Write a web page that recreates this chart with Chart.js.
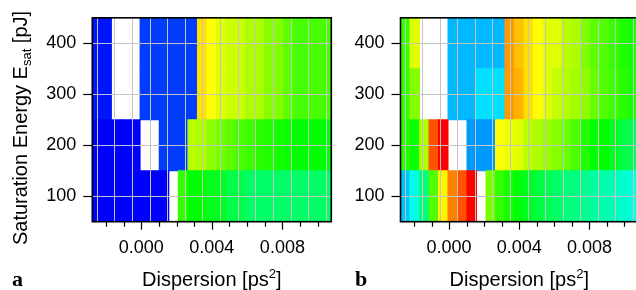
<!DOCTYPE html>
<html>
<head>
<meta charset="utf-8">
<script src="https://cdn.jsdelivr.net/npm/chart.js@4.4.0/dist/chart.umd.min.js"></script>
<style>
html, body { margin: 0; padding: 0; background: #fff; overflow: hidden; width: 636px; height: 290px; }
canvas { position: absolute; top: 0; }
#chart-a { left: 0; }
#chart-b { left: 340px; }
</style>
</head>
<body>
<canvas id="chart-a" width="340" height="290"></canvas>
<canvas id="chart-b" width="300" height="290"></canvas>
<script>
// --- Data ---
// column centres (dispersion, ps^2) and row centres (saturation energy, pJ)
const dispersion = [-0.002, -0.0015, -0.001, -0.0005, 0, 0.0005, 0.001, 0.0015, 0.002, 0.0025,
                    0.003, 0.0035, 0.004, 0.0045, 0.005, 0.0055, 0.006, 0.0065, 0.007, 0.0075,
                    0.008, 0.0085, 0.009, 0.0095, 0.010];
const energies = [100, 200, 300, 400];

// normalised colour-scale value per cell (0 = red ... 1 = blue), null = no data
const zA100 = [1, 1, 1, 1, 1, 1, 1, 1, null, 0.45, 0.50, 0.50, 0.53, 0.53, 0.57, 0.57, 0.60, 0.60, 0.60, 0.60, 0.60, 0.60, 0.60, 0.60, 0.60];
const zA200 = [1, 1, 1, 1, 1, null, null, 0.94, 0.94, 0.94, 0.32, 0.33, 0.36, 0.39, 0.41, 0.43, 0.44, 0.46, 0.47, 0.48, 0.49, 0.50, 0.50, 0.50, 0.51];
const zA300 = [0.98, 0.98, null, null, null, 0.94, 0.94, 0.94, 0.94, 0.94, 0.94, 0.22, 0.25, 0.28, 0.30, 0.30, 0.33, 0.33, 0.37, 0.37, 0.41, 0.43, 0.43, 0.43, 0.43];
const zA400 = [0.98, 0.98, null, null, null, 0.94, 0.94, 0.94, 0.94, 0.94, 0.94, 0.22, 0.25, 0.28, 0.30, 0.30, 0.33, 0.33, 0.37, 0.37, 0.41, 0.43, 0.43, 0.43, 0.43];

const zB100 = [0.81, 0.725, 0.625, 0.42, 0.24, 0.125, 0.08, 0.0, null, 0.38, 0.45, 0.48, 0.51, 0.53, 0.56, 0.58, 0.60, 0.62, 0.625, 0.64, 0.66, 0.67, 0.68, 0.70, 0.72];
const zB200 = [0.46, 0.49, 0.33, 0.08, 0.0, null, null, 0.85, 0.85, 0.85, 0.25, 0.27, 0.28, 0.32, 0.33, 0.35, 0.37, 0.40, 0.43, 0.47, 0.50, 0.50, 0.53, 0.57, 0.58];
const zB300 = [0.45, 0.37, null, null, null, 0.82, 0.82, 0.82, 0.78, 0.78, 0.78, 0.15, 0.175, 0.22, 0.25, 0.28, 0.31, 0.325, 0.34, 0.36, 0.40, 0.42, 0.44, 0.46, 0.475];
const zB400 = [0.45, 0.28, null, null, null, 0.82, 0.82, 0.82, 0.82, 0.82, 0.82, 0.15, 0.19, 0.22, 0.25, 0.28, 0.28, 0.32, 0.33, 0.375, 0.41, 0.42, 0.45, 0.47, 0.48];

// axis ticks
const xTickVals = [-0.002, -0.001, 0, 0.001, 0.002, 0.003, 0.004, 0.005, 0.006, 0.007, 0.008, 0.009, 0.010];
const xLabelVals = [0, 0.004, 0.008];
const yTickVals = [100, 200, 300, 400];
const yMin = 50, yMax = 450;

const GRID = '#c4c4c4';
const FONT = '"Liberation Sans", Arial, sans-serif';

const colStep = dispersion[1] - dispersion[0];
const rowHalf = (energies[1] - energies[0]) / 2;

// rainbow colour table: red -> yellow -> green -> cyan -> blue
function zColor(z) {
    if (z === null || z === undefined) return 'rgba(0,0,0,0)';
    return 'hsl(' + (z * 240).toFixed(1) + ',100%,50%)';
}

const isLabelled = v => xLabelVals.some(m => Math.abs(m - v) < 1e-9);

// draws text made of runs with different size / vertical shift
function drawRuns(ctx, runs, x, y) {
    let w = 0;
    runs.forEach(r => { ctx.font = r.size + 'px ' + FONT; r.w = ctx.measureText(r.t).width; w += r.w; });
    let cx = x - w / 2;
    runs.forEach(r => {
        ctx.font = r.size + 'px ' + FONT;
        ctx.fillText(r.t, cx, y + (r.dy || 0));
        cx += r.w;
    });
}

const panelDecor = {
    id: 'panelDecor',
    afterDraw(chart, args, opts) {
        const { ctx, chartArea: a } = chart;
        const xs = chart.scales.xd;
        ctx.save();
        ctx.strokeStyle = '#000';
        ctx.lineWidth = 1.2;
        xTickVals.forEach(v => {
            const px = Math.round(xs.getPixelForValue(v)) + 0.5;
            const len = isLabelled(v) ? 8 : 5;
            ctx.beginPath();
            ctx.moveTo(px, a.bottom);
            ctx.lineTo(px, a.bottom + len);
            ctx.stroke();
        });
        ctx.lineWidth = 1.6;
        ctx.strokeRect(a.left, a.top, a.right - a.left, a.bottom - a.top);

        ctx.fillStyle = '#000';
        ctx.textBaseline = 'alphabetic';
        ctx.textAlign = 'left';
        drawRuns(ctx, [
            { t: 'Dispersion [ps', size: 20 },
            { t: '2', size: 13, dy: -8 },
            { t: ']', size: 20 }
        ], (a.left + a.right) / 2, 286);

        if (opts.yTitle) {
            ctx.save();
            ctx.translate(27, 128);
            ctx.rotate(-Math.PI / 2);
            drawRuns(ctx, [
                { t: 'Saturation Energy E', size: 20 },
                { t: 'sat', size: 13, dy: 4 },
                { t: ' [pJ]', size: 20 }
            ], 0, 0);
            ctx.restore();
        }

        ctx.font = 'bold 22px "Liberation Serif", "Times New Roman", serif';
        ctx.fillText(opts.letter, opts.letterX, 286);
        ctx.restore();
    }
};

function makeHeatmap(id, rows, cfg) {
    const canvas = document.getElementById(id);
    const datasets = rows.map((z, r) => ({
        label: energies[r] + ' pJ',
        xAxisID: 'x',
        yAxisID: 'y',
        data: z.map(v => v === null ? null : [energies[r] - rowHalf, energies[r] + rowHalf]),
        backgroundColor: c => zColor(z[c.dataIndex]),
        borderWidth: 0,
        inflateAmount: 0.5,
        barPercentage: 1,
        categoryPercentage: 1
    }));

    return new Chart(canvas.getContext('2d'), {
        type: 'bar',
        data: { labels: dispersion.map(String), datasets: datasets },
        plugins: [panelDecor],
        options: {
            responsive: false,
            animation: false,
            devicePixelRatio: 1,
            layout: { padding: { left: 0, right: canvas.width - cfg.right, top: 13.3, bottom: 0 } },
            plugins: {
                legend: { display: false },
                tooltip: { enabled: false },
                panelDecor: { letter: cfg.letter, letterX: cfg.letterX, yTitle: cfg.yTitle }
            },
            scales: {
                x: { type: 'category', display: false, stacked: true, offset: true },
                xd: {
                    type: 'linear',
                    axis: 'x',
                    position: 'bottom',
                    min: dispersion[0] - colStep / 2,
                    max: dispersion[dispersion.length - 1] + colStep / 2,
                    afterBuildTicks: s => { s.ticks = xTickVals.map(v => ({ value: v })); },
                    afterFit: s => { s.height = 290 - 221.7; },
                    grid: { color: GRID, lineWidth: 1, z: 1, drawTicks: true, tickLength: 8, tickColor: 'rgba(0,0,0,0)' },
                    border: { display: false },
                    ticks: {
                        autoSkip: false,
                        maxRotation: 0,
                        padding: 8,
                        color: '#000',
                        font: { family: FONT, size: 18 },
                        callback: v => isLabelled(v) ? v.toFixed(3) : ''
                    }
                },
                y: {
                    type: 'linear',
                    min: yMin,
                    max: yMax,
                    stacked: false,
                    afterBuildTicks: s => { s.ticks = yTickVals.map(v => ({ value: v })); },
                    afterFit: s => { s.width = cfg.left; },
                    grid: { color: GRID, lineWidth: 1, z: 1, tickLength: 9, tickColor: '#000', tickWidth: 1.2 },
                    border: { display: false },
                    ticks: { padding: 7, color: '#000', font: { family: FONT, size: 18 } }
                }
            }
        }
    });
}

makeHeatmap('chart-a', [zA100, zA200, zA300, zA400], { left: 92.3, right: 331.3, letter: 'a', letterX: 12, yTitle: true });
makeHeatmap('chart-b', [zB100, zB200, zB300, zB400], { left: 60.5, right: 298, letter: 'b', letterX: 15, yTitle: false });
</script>
</body>
</html>
